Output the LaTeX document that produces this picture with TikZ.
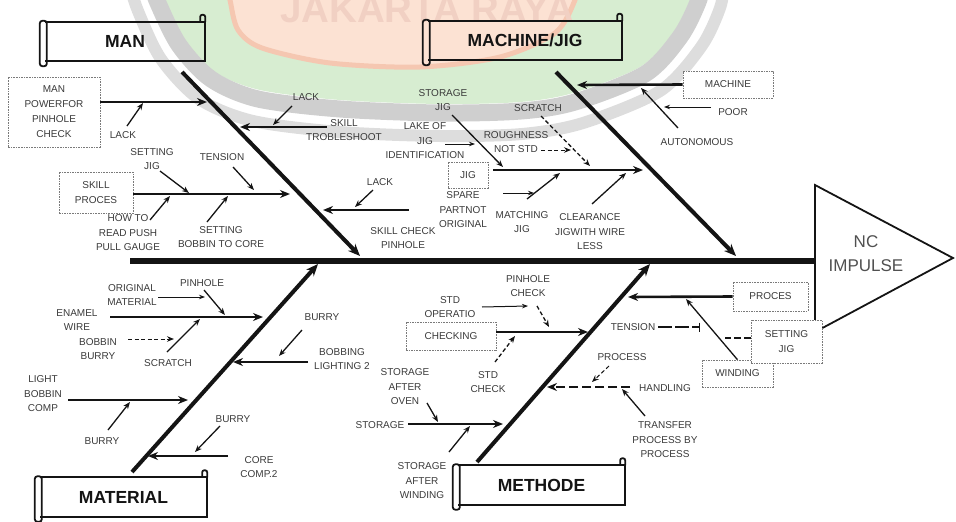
\documentclass[tikz,border=0pt]{standalone}
\usepackage{fontspec}
\setmainfont{Liberation Sans}
\usetikzlibrary{arrows.meta}

\definecolor{ink}{HTML}{141414}
\definecolor{lbltxt}{HTML}{3A3A3A}
\definecolor{boxgrey}{HTML}{7A7A7A}
\definecolor{headtxt}{HTML}{505050}
\definecolor{wmgreen}{HTML}{D7EDD1}
\definecolor{wmgrey}{HTML}{CFCFCF}
\definecolor{wmgreylt}{HTML}{DDDDDD}
\definecolor{wmpeach}{HTML}{FCE2D3}
\definecolor{wmpeachedge}{HTML}{F5C7B1}
\definecolor{wmtext}{HTML}{F1D0C3}

\tikzset{
  lbl/.style={font=\fontsize{10}{14.5}\selectfont, text=lbltxt, align=center, inner sep=0pt},
  ttl/.style={font=\fontsize{17.5}{18}\selectfont\bfseries, text=ink, inner sep=0pt, minimum height=39pt},
  dbox/.style={draw=boxgrey, line width=0.6pt, dash pattern=on 1.6pt off 1pt, fill=white,
               inner sep=0pt, align=center, font=\fontsize{10}{15}\selectfont, text=lbltxt},
  scrollln/.style={draw=ink, line width=1.8pt},
  spine/.style={draw=ink, line width=6.5pt},
  headln/.style={draw=ink, line width=1.8pt, line join=miter},
  bone/.style={draw=ink, line width=4pt, -{Stealth[length=12pt,width=10pt]}},
  branch/.style={draw=ink, line width=2.6pt, -{Stealth[length=10pt,width=8pt]}},
  twig/.style={draw=ink, line width=1.3pt, -{Stealth[length=7pt,width=5.5pt]}},
  thinarrow/.style={draw=ink, line width=1pt, -{Stealth[length=6pt,width=4.5pt]}},
  dtwig/.style={twig, dash pattern=on 4pt off 2.5pt},
}

\begin{document}
\begin{tikzpicture}[x=1pt,y=-1pt]
\useasboundingbox (0,0) rectangle (956,522);

% ---------- faint logo in the background ----------
\begin{scope}
  \clip (0,0) rectangle (956,522);
  \fill[wmgreen] plot[smooth] coordinates {(158,-20) (165,0) (185,40) (215,72) (260,90) (340,100)
      (440,104) (520,102) (573,93) (640,67) (673,33) (690,0) (694,-20)} -- cycle;
  \draw[wmgrey, line width=17pt] plot[smooth] coordinates {(150,-20) (158,3) (179,45) (211,79)
      (258,99) (340,109) (440,113) (521,111) (575,102) (645,74) (680,37) (698,2) (703,-20)};
  \draw[wmgreylt, line width=12pt] plot[smooth] coordinates {(128,-20) (138,11) (161,59) (199,99)
      (253,121) (340,132) (440,136) (522,134) (583,123) (660,91) (701,47) (720,8) (725,-20)};
  \filldraw[fill=wmpeach, draw=wmpeachedge, line width=5pt] plot[smooth] coordinates {(226,-20)
      (230,0) (238,30) (262,48) (330,63) (420,67) (500,57) (555,33) (575,0) (578,-20)} -- cycle;
  \node[font=\fontsize{38.5}{40}\selectfont\bfseries, text=wmtext, anchor=base, inner sep=0pt]
      (logotext) at (427,22) {JAKARTA RAYA};
\end{scope}

% ---------- spine and effect head ----------
\coordinate (tail) at (130,261);
\coordinate (hdW) at (815,261);
\coordinate (hdT) at (815,185);
\coordinate (hdP) at (953,258);
\coordinate (hdB) at (815,332);
\draw[spine] (tail) -- (hdW);
\draw[headln] (hdT) -- (hdP) -- (hdB) -- cycle;
\node[font=\fontsize{17}{24}\selectfont, text=headtxt, align=center, inner sep=0pt]
    (effect) at (866,254) {NC\\IMPULSE};

% ---------- category title scrolls ----------
\node[ttl, minimum width=160pt] (man)  at (125,41.5)  {MAN};
\node[ttl, minimum width=194pt] (mach) at (525,40.5)  {MACHINE/JIG};
\node[ttl, minimum width=167pt] (mat)  at (123.5,497) {MATERIAL};
\node[ttl, minimum width=167pt] (meth) at (541.5,485) {METHODE};
\foreach \n in {man,mach,mat,meth}{
  \draw[scrollln] (\n.north west) -- (\n.north east) -- (\n.south east) -- (\n.south west);
  \draw[scrollln, rounded corners=2.5pt] ([xshift=-5pt,yshift=1pt]\n.north west)
      rectangle ([xshift=2pt,yshift=-5pt]\n.south west);
  \draw[scrollln, rounded corners=2pt] ([xshift=-5pt]\n.north east)
      -- ([xshift=-5pt,yshift=7pt]\n.north east) -- ([yshift=7pt]\n.north east) -- (\n.north east);
}

% ---------- main bones ----------
\coordinate (manA) at (182,72);   \coordinate (manB) at (360,256);
\coordinate (macA) at (556,72);   \coordinate (macB) at (736,256);
\coordinate (matA) at (132,472);  \coordinate (matB) at (318,264);
\coordinate (metA) at (477,462);  \coordinate (metB) at (650,264);
\draw[bone] (manA) -- (manB);
\draw[bone] (macA) -- (macB);
\draw[bone] (matA) -- (matB);
\draw[bone] (metA) -- (metB);

% ---------- MAN ----------
\node[dbox, minimum width=92pt, minimum height=70pt] (mpc) at (54,112) {MAN\\POWERFOR\\PINHOLE\\CHECK};
\coordinate (m1e) at (207,102);
\draw[branch] (mpc.east |- m1e) -- (m1e);
\node[lbl] (lk1) at (123,135) {LACK};
\coordinate (t1a) at (127,126); \coordinate (t1b) at (143,103);
\draw[twig] (t1a) -- (t1b);

\node[lbl] (skt) at (344,130) {SKILL\\TROBLESHOOT};
\coordinate (m2s) at (327,127); \coordinate (m2e) at (240,127);
\draw[branch] (m2s) -- (m2e);
\node[lbl] (lk2) at (306,97) {LACK};
\coordinate (t2a) at (292,106); \coordinate (t2b) at (273,125);
\draw[twig] (t2a) -- (t2b);

\node[dbox, minimum width=74pt, minimum height=41pt] (spr) at (96,192.5) {SKILL\\PROCES};
\coordinate (m3e) at (290,194);
\draw[branch] (spr.east |- m3e) -- (m3e);
\node[lbl] (sj) at (152,159) {SETTING\\JIG};
\coordinate (t3a) at (160,171); \coordinate (t3b) at (189,193);
\draw[twig] (t3a) -- (t3b);
\node[lbl] (tn) at (222,157) {TENSION};
\coordinate (t4a) at (233,167); \coordinate (t4b) at (254,190);
\draw[twig] (t4a) -- (t4b);
\node[lbl] (htr) at (128,233) {HOW TO\\READ PUSH\\PULL GAUGE};
\coordinate (t5a) at (150,220); \coordinate (t5b) at (170,196);
\draw[twig] (t5a) -- (t5b);
\node[lbl] (sbc) at (221,237) {SETTING\\BOBBIN TO CORE};
\coordinate (t6a) at (207,222); \coordinate (t6b) at (228,196);
\draw[twig] (t6a) -- (t6b);

\node[lbl] (lk3) at (380,182) {LACK};
\coordinate (m4s) at (409,210); \coordinate (m4e) at (323,210);
\draw[branch] (m4s) -- (m4e);
\coordinate (t7a) at (373,190); \coordinate (t7b) at (355,207);
\draw[twig] (t7a) -- (t7b);
\node[lbl] (scp) at (403,238) {SKILL CHECK\\PINHOLE};

% ---------- MACHINE/JIG ----------
\node[dbox, minimum width=90pt, minimum height=27pt] (mcb) at (728,84.5) {MACHINE};
\coordinate (c5e) at (577,85);
\draw[branch] (mcb.west) -- (c5e);
\node[lbl] (poor) at (733,112) {POOR};
\coordinate (p1a) at (711,107); \coordinate (p1b) at (664,107);
\draw[thinarrow] (p1a) -- (p1b);
\node[lbl] (autonom) at (697,142) {AUTONOMOUS};
\coordinate (p2a) at (678,128); \coordinate (p2b) at (641,88);
\draw[twig] (p2a) -- (p2b);

\node[dbox, minimum width=40pt, minimum height=26pt] (jig) at (468,175) {JIG};
\coordinate (c6s) at (493,170); \coordinate (c6e) at (643,170);
\draw[branch] (c6s) -- (c6e);
\node[lbl] (sjg) at (443,100) {STORAGE\\JIG};
\coordinate (p3a) at (452,115); \coordinate (p3b) at (503,167);
\draw[twig] (p3a) -- (p3b);
\node[lbl] (loj) at (425,141) {LAKE OF\\JIG\\IDENTIFICATION};
\coordinate (p4a) at (445,144); \coordinate (p4b) at (475,144);
\draw[thinarrow] (p4a) -- (p4b);
\node[lbl] (scr) at (538,108) {SCRATCH};
\coordinate (p5a) at (541,116); \coordinate (p5b) at (590,166);
\draw[dtwig] (p5a) -- (p5b);
\node[lbl] (rns) at (516,142) {ROUGHNESS\\NOT STD};
\coordinate (p6a) at (541,150); \coordinate (p6b) at (571,150);
\draw[dtwig, line width=1pt] (p6a) -- (p6b);
\node[lbl] (spo) at (463,210) {SPARE\\PARTNOT\\ORIGINAL};
\coordinate (p7a) at (503,193); \coordinate (p7b) at (534,193);
\draw[thinarrow] (p7a) -- (p7b);
\node[lbl] (mjg) at (522,222) {MATCHING\\JIG};
\coordinate (p8a) at (527,199); \coordinate (p8b) at (560,173);
\draw[twig] (p8a) -- (p8b);
\node[lbl] (cjw) at (590,232) {CLEARANCE\\JIGWITH WIRE\\LESS};
\coordinate (p9a) at (592,204); \coordinate (p9b) at (626,173);
\draw[twig] (p9a) -- (p9b);

% ---------- MATERIAL ----------
\node[lbl] (orm) at (132,295) {ORIGINAL\\MATERIAL};
\coordinate (q1a) at (158,297); \coordinate (q1b) at (205,297);
\draw[thinarrow] (q1a) -- (q1b);
\node[lbl] (ph1) at (202,283) {PINHOLE};
\coordinate (q2a) at (204,290); \coordinate (q2b) at (225,315);
\draw[twig] (q2a) -- (q2b);
\node[lbl] (enw) at (77,320) {ENAMEL\\WIRE};
\coordinate (a7s) at (110,317); \coordinate (a7e) at (263,317);
\draw[branch] (a7s) -- (a7e);
\node[lbl] (bbb) at (98,349) {BOBBIN\\BURRY};
\coordinate (q3a) at (128,339); \coordinate (q3b) at (174,339);
\draw[dtwig, line width=1pt] (q3a) -- (q3b);
\node[lbl] (scr2) at (168,363) {SCRATCH};
\coordinate (q4a) at (167,352); \coordinate (q4b) at (200,319);
\draw[twig] (q4a) -- (q4b);

\node[lbl] (lbc) at (43,394) {LIGHT\\BOBBIN\\COMP};
\coordinate (a8s) at (68,400); \coordinate (a8e) at (188,400);
\draw[branch] (a8s) -- (a8e);
\node[lbl] (bur1) at (102,441) {BURRY};
\coordinate (q5a) at (108,430); \coordinate (q5b) at (130,402);
\draw[twig] (q5a) -- (q5b);

\node[lbl] (bur2) at (233,419) {BURRY};
\coordinate (a9s) at (228,456); \coordinate (a9e) at (148,456);
\draw[branch] (a9s) -- (a9e);
\coordinate (q6a) at (220,426); \coordinate (q6b) at (195,452);
\draw[twig] (q6a) -- (q6b);
\node[lbl] (cc2) at (259,467) {CORE\\COMP.2};

\node[lbl] (bur3) at (322,317) {BURRY};
\coordinate (a10s) at (308,362); \coordinate (a10e) at (233,362);
\draw[branch] (a10s) -- (a10e);
\coordinate (q7a) at (302,330); \coordinate (q7b) at (279,356);
\draw[twig] (q7a) -- (q7b);
\node[lbl] (bl2) at (342,359) {BOBBING\\LIGHTING 2};

% ---------- METHODE ----------
\node[dbox, minimum width=90pt, minimum height=28pt] (chk) at (451,336) {CHECKING};
\coordinate (e11) at (588,332);
\draw[branch] (chk.east |- e11) -- (e11);
\node[lbl] (phc) at (528,286) {PINHOLE\\CHECK};
\node[lbl] (sto) at (450,307) {STD\\OPERATIO};
\coordinate (r1a) at (482,307); \coordinate (r1b) at (528,306);
\draw[thinarrow] (r1a) -- (r1b);
\coordinate (r2a) at (537,306); \coordinate (r2b) at (549,327);
\draw[dtwig] (r2a) -- (r2b);
\node[lbl] (stc) at (488,382) {STD\\CHECK};
\coordinate (r3a) at (495,362); \coordinate (r3b) at (515,336);
\draw[dtwig] (r3a) -- (r3b);

\node[lbl] (stg) at (380,425) {STORAGE};
\coordinate (e12s) at (408,424); \coordinate (e12e) at (503,424);
\draw[branch] (e12s) -- (e12e);
\node[lbl] (sao) at (405,387) {STORAGE\\AFTER\\OVEN};
\coordinate (r4a) at (427,403); \coordinate (r4b) at (438,422);
\draw[twig] (r4a) -- (r4b);
\node[lbl] (saw) at (422,481) {STORAGE\\AFTER\\WINDING};
\coordinate (r5a) at (449,452); \coordinate (r5b) at (470,426);
\draw[twig] (r5a) -- (r5b);

\node[dbox, minimum width=75pt, minimum height=29pt] (prc) at (770.5,296.5) {PROCES};
\coordinate (e13) at (628,297);
\draw[branch] (prc.west) -- (e13);
\node[lbl] (tns) at (633,327) {TENSION};
\coordinate (r6a) at (658,327); \coordinate (r6b) at (700,327);
\draw[draw=ink, line width=1.3pt, dash pattern=on 14pt off 3pt, -{Bar[width=9pt]}] (r6a) -- (r6b);
\node[dbox, minimum width=71pt, minimum height=27pt] (wdg) at (737.5,373.5) {WINDING};
\coordinate (r7b) at (686,299);
\draw[twig] (wdg.north) -- (r7b);
\node[dbox, minimum width=71pt, minimum height=43pt] (sjb) at (786.5,341.5) {SETTING\\JIG};
\coordinate (r8b) at (725,338);
\draw[draw=ink, line width=2pt, dash pattern=on 7pt off 3pt] (sjb.west |- r8b) -- (r8b);

\node[lbl] (prs) at (622,357) {PROCESS};
\coordinate (r9a) at (609,366); \coordinate (r9b) at (592,382);
\draw[dtwig, line width=1pt] (r9a) -- (r9b);
\node[lbl] (hnd) at (665,388) {HANDLING};
\coordinate (e18s) at (630,387); \coordinate (e18e) at (547,387);
\draw[branch, dash pattern=on 9pt off 4pt] (e18s) -- (e18e);
\node[lbl] (tpp) at (665,440) {TRANSFER\\PROCESS BY\\PROCESS};
\coordinate (r10a) at (645,416); \coordinate (r10b) at (622,389);
\draw[twig] (r10a) -- (r10b);
\end{tikzpicture}
\end{document}
